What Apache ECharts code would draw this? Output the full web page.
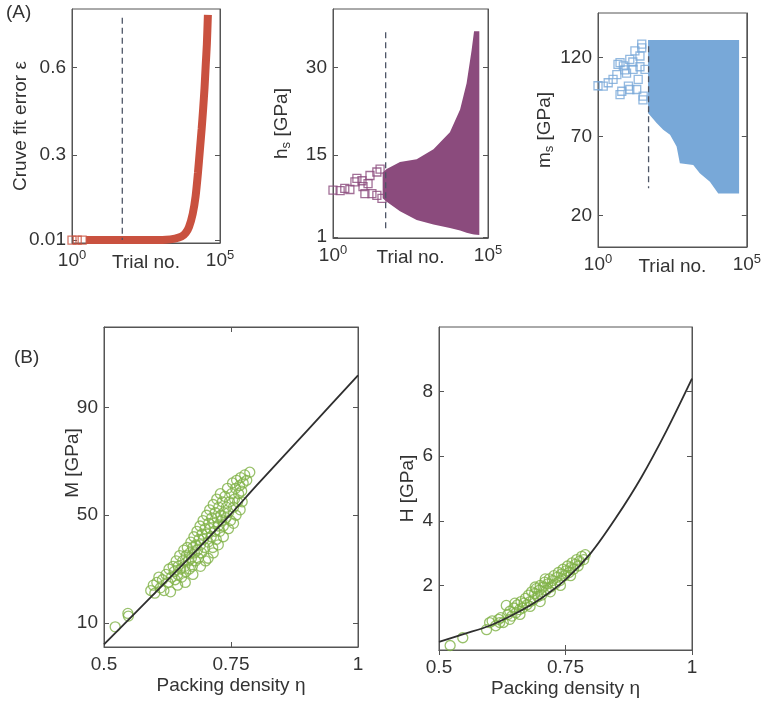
<!DOCTYPE html>
<html><head><meta charset="utf-8">
<script src="https://cdn.jsdelivr.net/npm/echarts@6/dist/echarts.min.js"></script>
<style>html,body{margin:0;padding:0;background:#fff}#c{width:764px;height:704px}</style>
</head><body><div id="c"></div>
<script>
// ---------- Panel (A) left: curve fit error ----------
const errTrials = [3, 30, 300, 1500, 3000, 5000, 7000, 9000, 12000, 15000, 18000, 21000, 24000, 27000, 30000, 33000, 36000, 39000];
const errValues = [0.01, 0.01, 0.01, 0.011, 0.015, 0.022, 0.035, 0.055, 0.1, 0.16, 0.24, 0.32, 0.39, 0.46, 0.53, 0.61, 0.68, 0.78];
const errStartTrials = [1, 1.5, 2.2];
const errStartValues = [0.01, 0.01, 0.01];
const errTicks = [0.01, 0.3, 0.6];
const errDash = [0.77, 0.01];

// ---------- Panel (A) middle: h_s ----------
const hsScatterTrials = [1.0, 1.7, 2.4, 3.5, 5.1, 5.9, 8.6, 9.3, 10.7, 13.5, 15.6, 18, 26, 26, 33, 38];
const hsScatterValues = [9.0, 8.9, 9.3, 9.1, 10.4, 11, 10.6, 9.6, 8.4, 10.1, 11.5, 8.4, 12.1, 8.1, 12.6, 7.6];
const hsEnvTrials = [40, 54, 145, 500, 1740, 5900, 12600, 20400, 29500, 35500, 52500];
const hsUpper = [12.0, 12.6, 13.8, 14.3, 16.0, 18.9, 22.8, 27.3, 32.9, 36.2, 36.2];
const hsLower = [7.6, 7.0, 5.4, 3.9, 3.1, 2.5, 2.1, 1.7, 1.5, 1.4, 1.3];
const hsTicks = [1, 15, 30];
const hsDash = [36, 2.2];

// ---------- Panel (A) right: m_s ----------
const msScatterTrials = [1.0, 1.5, 2.2, 3.2, 4.3, 5.5, 7.1, 6.3, 9.1, 10.5, 11.7, 15.1, 17.4, 20, 22.4, 25.7, 29.5, 33, 38, 4.7, 7.9, 5.5, 11.7, 14.8, 25.7, 32.4, 29.5];
const msScatterValues = [102, 101.7, 103.9, 106, 109, 116.6, 114.5, 98.5, 110, 101.7, 118.7, 112.4, 124, 99.6, 106, 120.8, 128.3, 95.4, 112.4, 115.5, 112, 96.4, 99.6, 117, 114, 93, 126];
const msEnvTrials = [48, 93, 155, 263, 437, 562, 1585, 2630, 5750, 10960, 55000];
const msUpper = [131, 131, 131, 131, 131, 131, 131, 131, 131, 131, 131];
const msLower = [84.8, 78.4, 74.1, 71.0, 63.5, 52.9, 51.8, 46.6, 41.2, 33.8, 33.8];
const msTicks = [20, 70, 120];
const msDash = [127, 37.2];

const trialTicks = [1, 100000];
const trialTickExp = ['0', '5'];
const dashTrial = 50;

// ---------- Panel (B) left: M ----------
const mFitEta = [0.5, 0.6, 0.7, 0.75, 0.8, 0.9, 1.0];
const mFitVal = [2, 21, 40.5, 50.5, 61, 81.5, 102];
const mEta = [0.522,0.547,0.548,0.592,0.597,0.600,0.604,0.608,0.611,0.615,0.618,0.622,0.626,0.628,0.631,0.633,0.636,0.638,0.640,0.642,0.645,0.646,0.649,0.651,0.653,0.655,0.657,0.659,0.661,0.662,0.664,0.666,0.668,0.669,0.671,0.672,0.674,0.675,0.677,0.678,0.680,0.681,0.683,0.684,0.686,0.687,0.689,0.690,0.692,0.693,0.695,0.696,0.698,0.699,0.700,0.702,0.703,0.705,0.706,0.708,0.709,0.711,0.712,0.714,0.715,0.716,0.718,0.719,0.721,0.722,0.723,0.725,0.726,0.728,0.729,0.730,0.732,0.733,0.735,0.736,0.738,0.740,0.741,0.743,0.745,0.747,0.749,0.751,0.753,0.755,0.757,0.759,0.761,0.763,0.765,0.767,0.769,0.771,0.774,0.777,0.781,0.787,0.760,0.768,0.772,0.755,0.745,0.735,0.725,0.715,0.705,0.690,0.675,0.660,0.645];
const mVal = [8.5,13.5,12.5,22,24,21,25,27,23,26,22,28,25,30,21.5,27,31,29,26,33,28,31,35,30,27,33,37,31,29,35,38,33,30,36,40,34,31,38,42,36,33,39,44,37,34,41,46,39,36,43,48,41,38,45,33,50,43,40,47,52,45,42,49,38,54,47,44,51,41,56,49,46,53,44,58,50,48,55,46,51,57,49,53,60,51,55,48,58,62,53,56,60,63,55,58,61,64,59,62,65,63,66,50,52,55,47,45,42,39,36,34,31,28,25,24];
const mTicks = [10, 50, 90];

// ---------- Panel (B) right: H ----------
const hFitEta = [0.5, 0.55, 0.6, 0.65, 0.7, 0.75, 0.8, 0.85, 0.9, 0.95, 1.0];
const hFitVal = [0.25, 0.5, 0.75, 1.12, 1.58, 2.18, 3.0, 4.1, 5.35, 6.8, 8.4];
const hEta = [0.522,0.547,0.594,0.600,0.605,0.612,0.618,0.622,0.627,0.633,0.636,0.640,0.644,0.648,0.652,0.655,0.659,0.662,0.665,0.668,0.671,0.674,0.677,0.680,0.683,0.686,0.689,0.692,0.695,0.698,0.700,0.703,0.706,0.709,0.712,0.715,0.718,0.721,0.724,0.727,0.730,0.733,0.736,0.739,0.742,0.745,0.748,0.751,0.754,0.757,0.760,0.763,0.766,0.769,0.772,0.775,0.778,0.782,0.786,0.789,0.680,0.660,0.640,0.620,0.700,0.720,0.740,0.760,0.710,0.690,0.650];
const hVal = [0.14,0.38,0.63,0.85,0.9,0.75,0.95,1.0,0.85,1.38,1.1,1.2,1.05,1.3,1.15,1.4,1.25,1.5,1.3,1.45,1.6,1.4,1.7,1.5,1.8,1.55,1.75,1.9,1.65,1.85,2.0,1.7,1.95,2.1,1.85,2.05,2.2,1.95,2.15,2.3,2.05,2.25,2.4,2.15,2.35,2.5,2.3,2.45,2.6,2.4,2.55,2.7,2.5,2.65,2.8,2.6,2.75,2.9,2.8,2.95,1.35,1.1,0.95,0.85,1.5,1.8,2.0,2.3,2.2,1.95,1.45];
const hTicks = [2, 4, 6, 8];
const etaTicks = [0.5, 0.75, 1];

// ---------- colours ----------
const C_RED = '#c9513f', C_PUR = '#8b4b7d', C_BLUE = '#78a8d8', C_GREEN = '#7fb246', C_TXT = '#333', C_AX = '#555';
const FONT = 'Liberation Sans, Arial, sans-serif';

const zip = (a, b) => a.map((v, i) => [v, b[i]]);

const baseAxis = {
  nameMoveOverlap: false,
  axisLine: {show: true, lineStyle: {color: C_AX, width: 1}},
  axisTick: {show: true, inside: true, length: 5, lineStyle: {color: C_AX}},
  axisLabel: {color: C_TXT, fontSize: 19, fontFamily: FONT},
  splitLine: {show: false},
  nameTextStyle: {color: C_TXT, fontSize: 19, fontFamily: FONT}
};
function ax(o) { return echarts.util.merge(echarts.util.clone(baseAxis), o, true); }

const grids = [
  {left: 72, top: 9, width: 148, height: 234},
  {left: 333, top: 9, width: 155, height: 229},
  {left: 598, top: 13, width: 149, height: 234},
  {left: 104, top: 327, width: 254, height: 320},
  {left: 439, top: 327, width: 253, height: 323}
].map(g => Object.assign(g, {show: true, borderColor: C_AX, borderWidth: 1, containLabel: false}));

function trialAxis(gi) {
  return ax({
    type: 'log', logBase: 10, gridIndex: gi, min: 1, max: 100000,
    axisTick: {show: false},
    axisLabel: {
      customValues: trialTicks, margin: 6,
      formatter: v => '{b|10}{s|' + trialTickExp[Math.abs(v - trialTicks[0]) < 0.5 ? 0 : 1] + '}',
      rich: {b: {fontSize: 19, color: C_TXT, fontFamily: FONT}, s: {fontSize: 13, color: C_TXT, fontFamily: FONT, padding: [0, 0, 10, 0]}}
    },
    name: 'Trial no.', nameLocation: 'middle', nameGap: 10
  });
}
function etaAxis(gi) {
  return ax({type: 'value', gridIndex: gi, min: 0.5, max: 1, interval: 0.25,
    axisLabel: {margin: 8}, name: 'Packing density η', nameLocation: 'middle', nameGap: 29});
}
function etaTop(gi) {
  return ax({type: 'value', gridIndex: gi, position: 'top', min: 0.5, max: 1, interval: 0.25, axisLabel: {show: false}});
}
function yLeft(gi, min, max, ticks, name, gap, extra) {
  return ax(Object.assign({type: 'value', gridIndex: gi, min: min, max: max,
    axisTick: {customValues: ticks}, axisLabel: {customValues: ticks, margin: 6},
    name: name, nameLocation: 'middle', nameGap: gap}, extra || {}));
}
function yRight(gi, min, max, ticks) {
  return ax({type: 'value', gridIndex: gi, position: 'right', min: min, max: max,
    axisTick: {customValues: ticks}, axisLabel: {show: false}});
}

const subRich = {a: {fontSize: 19, color: C_TXT, fontFamily: FONT}, sub: {fontSize: 13, color: C_TXT, fontFamily: FONT, padding: [10, 0, 0, 0]}};

const xAxis = [trialAxis(0), trialAxis(1), trialAxis(2), etaAxis(3), etaAxis(4), etaTop(3), etaTop(4)];
const yAxis = [
  yLeft(0, 0, 0.8, errTicks, 'Cruve fit error ε', 42),
  yLeft(1, 0.8, 40, hsTicks, '{a|h}{sub|s}{a| [GPa]}', 40, {nameTextStyle: {rich: subRich}}),
  yLeft(2, 0, 148, msTicks, '{a|m}{sub|s}{a| [GPa]}', 42, {nameTextStyle: {rich: subRich}}),
  yLeft(3, 1, 120, mTicks, 'M [GPa]', 22, {nameTextStyle: {padding: [0, 0, 0, 48]}}),
  yLeft(4, 0, 10, hTicks, 'H [GPa]', 22),
  yRight(0, 0, 0.8, errTicks), yRight(1, 0.8, 40, hsTicks), yRight(2, 0, 148, msTicks),
  yRight(3, 1, 120, mTicks), yRight(4, 0, 10, hTicks)
];

function band(i, trials, upper, lower, color) {
  return {
    type: 'custom', xAxisIndex: i, yAxisIndex: i, silent: true, clip: true, z: 2,
    data: [[trials[0], upper[0]]],
    renderItem: (params, api) => {
      const pts = [];
      for (let k = 0; k < trials.length; k++) pts.push(api.coord([trials[k], upper[k]]));
      for (let k = trials.length - 1; k >= 0; k--) pts.push(api.coord([trials[k], lower[k]]));
      return {type: 'polygon', shape: {points: pts}, style: {fill: color}};
    }
  };
}
function hollowSquares(i, xs, ys, color) {
  return {type: 'scatter', xAxisIndex: i, yAxisIndex: i, symbol: 'rect', symbolSize: 8, z: 3,
    itemStyle: {color: 'rgba(0,0,0,0)', borderColor: color, borderWidth: 1.3}, data: zip(xs, ys)};
}
function dash(i, ys) {
  return {type: 'line', xAxisIndex: i, yAxisIndex: i, symbol: 'none', z: 5,
    lineStyle: {color: '#4d5566', width: 1.3, type: [6, 4]}, data: [[dashTrial, ys[0]], [dashTrial, ys[1]]]};
}
function circles(i, xs, ys) {
  return {type: 'scatter', xAxisIndex: i, yAxisIndex: i, symbol: 'circle', symbolSize: 10, z: 3,
    itemStyle: {color: 'rgba(0,0,0,0)', borderColor: C_GREEN, borderWidth: 1.3}, data: zip(xs, ys)};
}
function fit(i, xs, ys) {
  return {type: 'line', xAxisIndex: i, yAxisIndex: i, symbol: 'none', smooth: 0.3, z: 4,
    lineStyle: {color: '#2f2f2f', width: 1.8}, data: zip(xs, ys)};
}

const series = [
  {type: 'line', xAxisIndex: 0, yAxisIndex: 0, symbol: 'none', z: 3, smooth: 0.2,
    lineStyle: {color: C_RED, width: 8}, data: zip(errTrials, errValues)},
  hollowSquares(0, errStartTrials, errStartValues, C_RED),
  dash(0, errDash),
  band(1, hsEnvTrials, hsUpper, hsLower, C_PUR),
  hollowSquares(1, hsScatterTrials, hsScatterValues, C_PUR),
  dash(1, hsDash),
  band(2, msEnvTrials, msUpper, msLower, C_BLUE),
  hollowSquares(2, msScatterTrials, msScatterValues, C_BLUE),
  dash(2, msDash),
  circles(3, mEta, mVal), fit(3, mFitEta, mFitVal),
  circles(4, hEta, hVal), fit(4, hFitEta, hFitVal)
];

const chart = echarts.init(document.getElementById('c'), null, {renderer: 'canvas'});
chart.setOption({
  animation: false,
  backgroundColor: '#fff',
  grid: grids, xAxis: xAxis, yAxis: yAxis, series: series,
  graphic: [
    {type: 'text', left: 6, top: 3, style: {text: '(A)', fontSize: 19, fill: C_TXT, fontFamily: FONT}},
    {type: 'text', left: 14, top: 348, style: {text: '(B)', fontSize: 19, fill: C_TXT, fontFamily: FONT}}
  ]
});
</script>
</body></html>
